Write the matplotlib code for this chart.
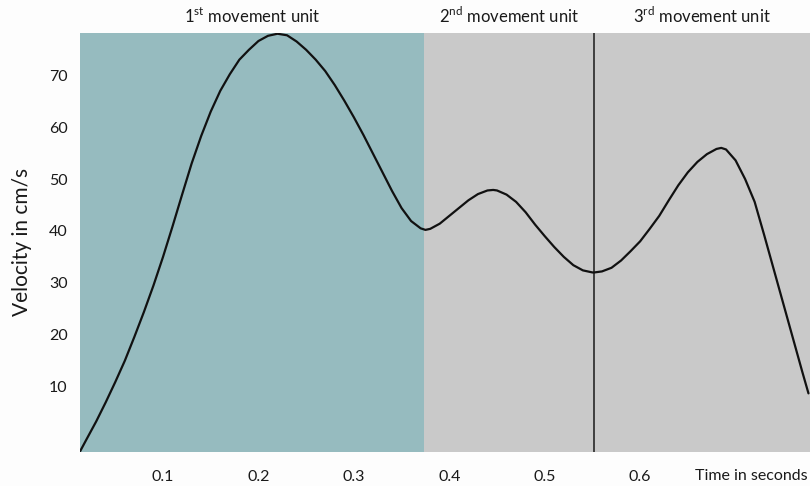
import matplotlib
matplotlib.use("Agg")
import matplotlib.pyplot as plt
import matplotlib.transforms as mtransforms

plt.rcParams['font.family'] = ['Lato', 'DejaVu Sans']
plt.rcParams['mathtext.fontset'] = 'custom'
plt.rcParams['mathtext.rm'] = 'Lato'

# Velocity trace (seconds, cm/s)
timeSec = [0.013, 0.02, 0.03, 0.04, 0.05, 0.06, 0.07, 0.08, 0.09, 0.10,
           0.11, 0.12, 0.13, 0.14, 0.15, 0.16, 0.17, 0.18, 0.19, 0.20,
           0.21, 0.22, 0.23, 0.24, 0.25, 0.26, 0.27, 0.28, 0.29, 0.30,
           0.31, 0.32, 0.33, 0.34, 0.35, 0.36, 0.37, 0.375, 0.38, 0.39,
           0.40, 0.41, 0.42, 0.43, 0.44, 0.446, 0.45, 0.46, 0.47, 0.48,
           0.49, 0.50, 0.51, 0.52, 0.53, 0.54, 0.55, 0.552, 0.56, 0.57,
           0.58, 0.59, 0.60, 0.61, 0.62, 0.63, 0.64, 0.65, 0.66, 0.67,
           0.68, 0.685, 0.69, 0.70, 0.71, 0.72, 0.73, 0.74, 0.75, 0.76,
           0.77, 0.7764]
velocity = [-2.5, -0.1, 3.3, 7.0, 10.9, 15.0, 19.6, 24.4, 29.5, 35.0,
            40.9, 47.0, 53.0, 58.3, 63.0, 67.0, 70.2, 73.0, 74.9, 76.6,
            77.6, 78.0, 77.7, 76.5, 74.9, 73.0, 70.8, 68.1, 65.1, 61.9,
            58.5, 54.9, 51.3, 47.7, 44.4, 41.9, 40.5, 40.2, 40.4, 41.4,
            42.9, 44.4, 45.9, 47.1, 47.8, 47.9, 47.8, 47.0, 45.6, 43.6,
            41.2, 39.0, 36.9, 35.0, 33.4, 32.4, 32.0, 32.0, 32.2, 32.9,
            34.3, 36.1, 38.0, 40.4, 42.9, 45.9, 48.8, 51.3, 53.3, 54.8,
            55.8, 56.0, 55.7, 53.6, 50.0, 45.6, 39.2, 32.6, 26.0, 19.4,
            12.8, 8.7]

# movement unit boundaries (s)
unitEdges = [0.013, 0.3736, 0.552, 0.778]
unitNames = [r"1$^{\mathrm{st}}$ movement unit",
             r"2$^{\mathrm{nd}}$ movement unit",
             r"3$^{\mathrm{rd}}$ movement unit"]

xTicks = [0.1, 0.2, 0.3, 0.4, 0.5, 0.6]
yTicks = [10, 20, 30, 40, 50, 60, 70]

fig = plt.figure(figsize=(8.1, 4.86), dpi=100)
fig.patch.set_facecolor("#FDFDFD")
ax = fig.add_axes([80/810, 34/486, 730/810, (452-32.7)/486])

ax.axvspan(unitEdges[0], unitEdges[1], color="#96BBBF", lw=0)
ax.axvspan(unitEdges[1], unitEdges[3], color="#C9C9C9", lw=0)
ax.axvline(unitEdges[2], color="#1A1A1A", lw=1.1)

ax.plot(timeSec, velocity, color="#111111", lw=1.6, solid_capstyle="round", solid_joinstyle="round")

ax.set_xlim(unitEdges[0], unitEdges[-1])
ax.set_ylim(-2.6, 78.2)
ax.set_xticks(xTicks)
ax.set_xticklabels([f"{t:.1f}" for t in xTicks])
ax.set_yticks(yTicks)
ax.tick_params(length=0, labelsize=11.5, colors="#1A1A1A")
ax.tick_params(axis="x", pad=13)
ax.tick_params(axis="y", pad=9)
for s in ax.spines.values():
    s.set_visible(False)

ax.set_ylabel("Velocity in cm/s", fontsize=15, color="#1A1A1A", labelpad=12)

trans = mtransforms.blended_transform_factory(ax.transData, ax.transAxes)
for i, name in enumerate(unitNames):
    mid = (unitEdges[i] + unitEdges[i + 1]) / 2
    ax.annotate(name, xy=(mid, 1), xycoords=trans, xytext=(0, 12), textcoords="offset points",
                ha="center", va="center", fontsize=12, color="#1A1A1A")

ax.annotate("Time in seconds", xy=(1, 0), xycoords="axes fraction", xytext=(-2, -17),
            textcoords="offset points", ha="right", va="center", fontsize=11.5, color="#1A1A1A")

fig.savefig("out.png", dpi=100, facecolor=fig.get_facecolor())
